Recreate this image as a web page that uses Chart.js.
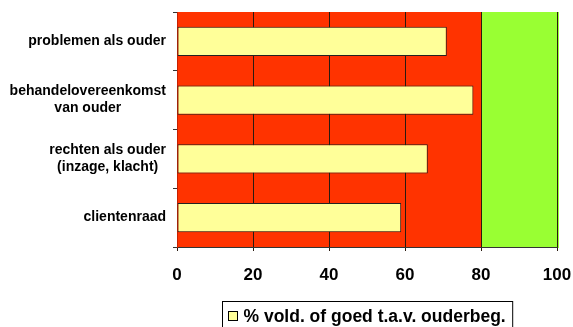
<!DOCTYPE html>
<html>
<head>
<meta charset="utf-8">
<script src="https://cdn.jsdelivr.net/npm/chart.js@4/dist/chart.umd.min.js"></script>
<style>
  html, body { margin: 0; padding: 0; background: #fff; overflow: hidden; }
  #wrap { width: 573px; height: 327px; position: relative; }
</style>
</head>
<body>
<div id="wrap"><canvas id="c" width="573" height="327"></canvas></div>
<script>
// Aspects of parent involvement, share rated sufficient or good
const categories = [
  'problemen als ouder',
  ['behandelovereenkomst', 'van ouder'],
  ['rechten als ouder', '(inzage, klacht)'],
  'clientenraad'
];
const scores = [71, 78, 66, 59];
const seriesLabel = '% vold. of goed t.a.v. ouderbeg.';
const xTicks = [0, 20, 40, 60, 80, 100];
// Score zones: below norm (0-80) and at/above norm (80-100)
const zoneBounds = [0, 80, 100];

const FONT = 'Arial, "Liberation Sans", sans-serif';
const zoneColors = ['#FF3300', '#99FF33'];
const barFill = '#FFFF99';

Chart.defaults.font.family = FONT;

// Paints the coloured score zones behind grid and bars
const zonePlugin = {
  id: 'zones',
  beforeDraw(chart) {
    const { ctx, chartArea, scales } = chart;
    ctx.save();
    for (let i = 0; i < zoneBounds.length - 1; i++) {
      const x0 = scales.x.getPixelForValue(zoneBounds[i]);
      const x1 = scales.x.getPixelForValue(zoneBounds[i + 1]);
      ctx.fillStyle = zoneColors[i];
      ctx.fillRect(x0, chartArea.top, x1 - x0 + (i === zoneBounds.length - 2 ? 2 : 0), chartArea.bottom - chartArea.top + 1);
    }
    ctx.restore();
  }
};

// Category labels: block right-aligned against the axis, lines centred within the block
const categoryLabelPlugin = {
  id: 'categoryLabels',
  afterDraw(chart) {
    const { ctx, scales } = chart;
    const y = scales.y;
    const right = y.right - 4 - 7;
    const lineH = 17;
    ctx.save();
    ctx.font = 'bold 14px ' + FONT;
    ctx.fillStyle = '#000';
    ctx.textAlign = 'center';
    ctx.textBaseline = 'middle';
    chart.data.labels.forEach((lab, i) => {
      const lines = Array.isArray(lab) ? lab : [lab];
      const w = Math.max(...lines.map(l => ctx.measureText(l).width));
      const cx = right - w / 2;
      const cy = y.getPixelForTick(i);
      lines.forEach((l, k) => {
        ctx.fillText(l, cx, cy + (k - (lines.length - 1) / 2) * lineH);
      });
    });
    ctx.restore();
  }
};

// Boxed legend under the plot area
const boxLegendPlugin = {
  id: 'boxLegend',
  afterDraw(chart) {
    const { ctx } = chart;
    const ds = chart.data.datasets[0];
    ctx.save();
    ctx.font = 'bold 17.5px ' + FONT;
    const tw = ctx.measureText(ds.label).width;
    const sw = 9, gap = 6, padL = 6, padR = 7;
    const w = padL + sw + gap + tw + padR;
    const left = 222.5;
    const top = 301.5;
    ctx.strokeStyle = '#000';
    ctx.lineWidth = 1;
    ctx.fillStyle = '#fff';
    ctx.fillRect(left, top, w, 40);
    ctx.strokeRect(left, top, w, 40);
    ctx.fillStyle = ds.backgroundColor;
    ctx.fillRect(left + padL, top + 10, sw, sw);
    ctx.strokeRect(left + padL, top + 10, sw, sw);
    ctx.fillStyle = '#000';
    ctx.textBaseline = 'middle';
    ctx.textAlign = 'left';
    ctx.fillText(ds.label, left + padL + sw + gap, top + 15.5);
    ctx.restore();
  }
};

new Chart(document.getElementById('c'), {
  type: 'bar',
  data: {
    labels: categories,
    datasets: [{
      label: seriesLabel,
      data: scores,
      backgroundColor: barFill,
      borderColor: '#222',
      borderWidth: 1,
      borderSkipped: false,
      barPercentage: 0.5,
      categoryPercentage: 1
    }]
  },
  options: {
    indexAxis: 'y',
    responsive: false,
    animation: false,
    devicePixelRatio: 1,
    layout: { padding: { top: 12, right: 16, left: 0, bottom: 0 } },
    plugins: {
      legend: { display: false },
      tooltip: { enabled: false }
    },
    scales: {
      x: {
        min: 0,
        max: 100,
        afterBuildTicks: (s) => { s.ticks = xTicks.map(v => ({ value: v })); },
        afterFit: (s) => { s.height = 80; s.paddingLeft = 0; s.paddingRight = 0; },
        grid: { color: '#2a1a10', lineWidth: 1, tickLength: 4, drawTicks: true },
        border: { display: true, color: '#333', width: 1 },
        ticks: {
          color: '#000',
          padding: 14,
          maxRotation: 0,
          font: { size: 17, weight: 'bold', family: FONT }
        }
      },
      y: {
        afterFit: (s) => { s.width = 177; s.paddingTop = 0; s.paddingBottom = 0; },
        grid: { offset: true, drawOnChartArea: false, tickLength: 4, color: '#333' },
        border: { display: true, color: '#c82000', width: 1 },
        ticks: {
          display: true,
          color: 'rgba(0,0,0,0)',
          padding: 7,
          font: { size: 14, weight: 'bold', family: FONT, lineHeight: 1.2 }
        }
      }
    }
  },
  plugins: [zonePlugin, categoryLabelPlugin, boxLegendPlugin]
});
</script>
</body>
</html>
